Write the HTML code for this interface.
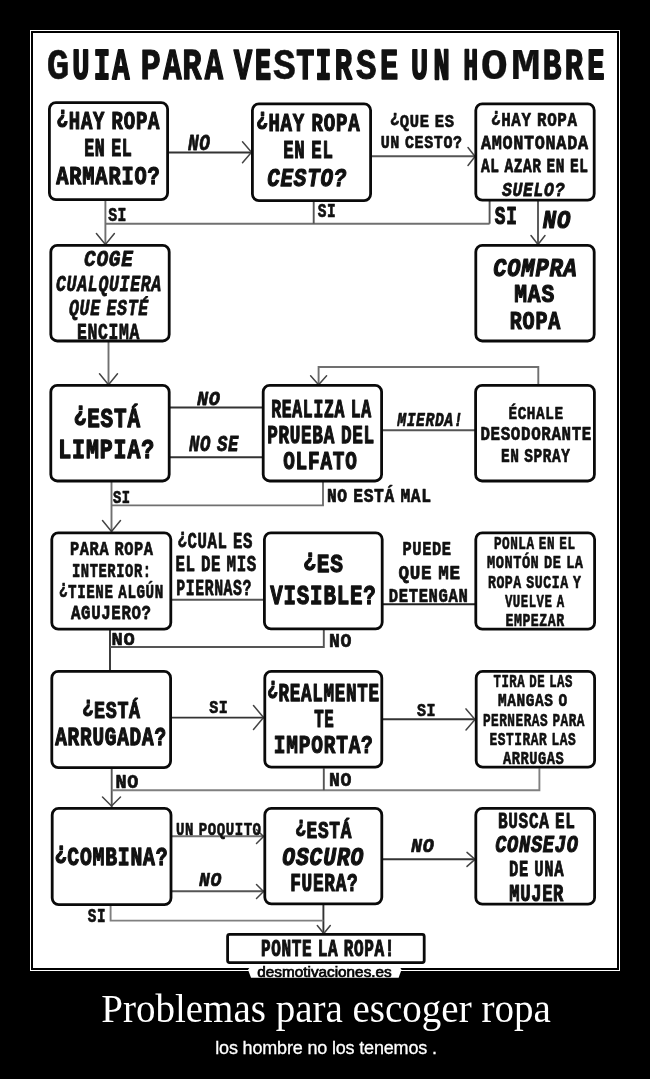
<!DOCTYPE html>
<html lang="es">
<head>
<meta charset="utf-8">
<title>Problemas para escoger ropa</title>
<style>
html,body{margin:0;padding:0;background:#000;overflow:hidden;}
body{width:650px;height:1079px;position:relative;overflow:hidden;font-family:"Liberation Sans",sans-serif;}
#page{position:absolute;left:0;top:0;width:650px;height:1079px;background:#000;filter:grayscale(1);}
#frame{position:absolute;left:30px;top:30px;width:584px;height:935px;padding:2px;border:1px solid #fff;background:#000;}
#chart{display:block;width:584px;height:935px;background:#fff;}
#ink{filter:blur(0.45px);}
#chart text{font-family:"Liberation Mono","DejaVu Sans Mono",monospace;font-weight:bold;fill:#111;stroke:#111;stroke-linejoin:round;stroke-linecap:round;}
#wm{position:absolute;left:245px;top:963px;width:160px;height:16px;}
#cap{position:absolute;left:0;top:987px;width:650px;box-sizing:border-box;padding-left:2px;text-align:center;color:#fff;font-family:"Liberation Serif",serif;font-size:39px;line-height:44px;white-space:nowrap;}
#sub{position:absolute;left:0;top:1038px;width:650px;box-sizing:border-box;padding-left:2px;text-align:center;color:#fff;-webkit-text-stroke:0.3px #fff;font-family:"Liberation Sans",sans-serif;font-size:18px;letter-spacing:-0.17px;line-height:20px;white-space:nowrap;}
</style>
</head>
<body>
<div id="page">
<div id="frame">
<svg id="chart" width="584" height="935" viewBox="33 33 584 935">
<rect x="33" y="33" width="584" height="935" fill="#fff"/>
<g id="ink">

<g fill="none" stroke-width="1.9" stroke-linecap="butt" stroke-linejoin="miter">
<polyline stroke="#333" points="168,152.5 251.5,152.5"/>
<polyline stroke="#555" points="371,156.3 475,156.3"/>
<polyline stroke="#707070" points="105.4,200 105.4,244.5"/>
<polyline stroke="#707070" points="105.4,223.7 489.6,223.7"/>
<polyline stroke="#555" points="313.7,201 313.7,223.7"/>
<polyline stroke="#555" points="489.6,201 489.6,223.7"/>
<polyline stroke="#555" points="538,201 538,244.5"/>
<polyline stroke="#707070" points="108.5,342 108.5,384.7"/>
<polyline stroke="#707070" points="538.3,385 538.3,367 318.6,367 318.6,384.7"/>
<polyline stroke="#333" points="170,407.5 262.5,407.5"/>
<polyline stroke="#333" points="170,457.3 262.5,457.3"/>
<polyline stroke="#555" points="382.5,430.3 475,430.3"/>
<polyline stroke="#707070" points="111.5,482 111.5,531.7"/>
<polyline stroke="#707070" points="111.5,505.4 323,505.4 323,482"/>
<polyline stroke="#555" points="171.5,599.8 263.5,599.8"/>
<polyline stroke="#222" points="383,604.3 475.5,604.3"/>
<polyline stroke="#333" points="110,630 110,670.5"/>
<polyline stroke="#555" points="110,647 323.8,647 323.8,630"/>
<polyline stroke="#333" points="171.5,717.6 264,717.6"/>
<polyline stroke="#333" points="382.5,719.2 475.3,719.2"/>
<polyline stroke="#555" points="111.7,768.5 111.7,807"/>
<polyline stroke="#808080" points="111.7,790.2 539.4,790.2 539.4,768.3"/>
<polyline stroke="#555" points="323.8,768.3 323.8,790.2"/>
<polyline stroke="#707070" points="172,836.3 264,836.3"/>
<polyline stroke="#555" points="172,891.3 264,891.3"/>
<polyline stroke="#333" points="382.5,859.2 475,859.2"/>
<polyline stroke="#333" points="323.4,905 323.4,933.5"/>
<polyline stroke="#808080" points="110.6,905.5 110.6,920.6 323.4,920.6"/>
</g>
<g fill="none" stroke="#444" stroke-width="1.5" stroke-linecap="round" stroke-linejoin="round">
<polyline points="242.5,141.7 251.5,152.2 242.5,162.7"/>
<polyline points="468,147.5 475,156.5 468,165.5"/>
<polyline points="96.4,233.5 105.4,244.5 114.4,233.5"/>
<polyline points="531,235.5 538,244.5 545,235.5"/>
<polyline points="99.5,373.8 108.5,384.8 117.5,373.8"/>
<polyline points="310.6,375.8 318.6,384.8 326.6,375.8"/>
<polyline points="102.5,520.5 111.5,531.5 120.5,520.5"/>
<polyline points="253.5,705.5 263.5,717.5 253.5,729.5"/>
<polyline points="466,708.9 475,719.4 466,729.9"/>
<polyline points="102.5,797 111.5,806 120.5,797"/>
<polyline points="256.5,829.5 263.5,836.5 256.5,843.5"/>
<polyline points="256.5,884.5 263.5,891.5 256.5,898.5"/>
<polyline points="467,852.4 475,859.4 467,866.4"/>
<polyline points="317.3,925.5 323.8,933.5 330.3,925.5"/>
</g>
<g fill="#fff" stroke="#0a0a0a" stroke-width="2.8">
<rect x="49.4" y="102.6" width="118.2" height="97" rx="6.5" ry="6.5"/>
<rect x="252.4" y="103.8" width="118.2" height="96.8" rx="6.5" ry="6.5"/>
<rect x="475.8" y="103.8" width="118.4" height="96.4" rx="6.5" ry="6.5"/>
<rect x="50.8" y="245.4" width="118.4" height="95.6" rx="6.5" ry="6.5"/>
<rect x="475.8" y="245.4" width="118.4" height="95.6" rx="6.5" ry="6.5"/>
<rect x="50.8" y="385.4" width="118.4" height="95.6" rx="6.5" ry="6.5"/>
<rect x="263.2" y="385.3" width="118.4" height="95.7" rx="6.5" ry="6.5"/>
<rect x="475.6" y="385.4" width="118.8" height="95.6" rx="6.5" ry="6.5"/>
<rect x="51.8" y="532.8" width="119" height="96.4" rx="6.5" ry="6.5"/>
<rect x="264.4" y="532.8" width="117.8" height="96" rx="6.5" ry="6.5"/>
<rect x="475.8" y="532.8" width="118.8" height="96.4" rx="6.5" ry="6.5"/>
<rect x="51.8" y="671.4" width="118.8" height="96.2" rx="6.5" ry="6.5"/>
<rect x="264.8" y="671.4" width="117" height="95.8" rx="6.5" ry="6.5"/>
<rect x="476.2" y="671.4" width="118.4" height="95.8" rx="6.5" ry="6.5"/>
<rect x="52.2" y="808.4" width="118.8" height="96.2" rx="6.5" ry="6.5"/>
<rect x="264.8" y="808.4" width="117" height="95.4" rx="6.5" ry="6.5"/>
<rect x="475.8" y="808.4" width="118.8" height="95.8" rx="6.5" ry="6.5"/>
<rect x="227.6" y="934.4" width="196.6" height="28.2" rx="2" ry="2" stroke-width="2.8"/>
</g>
<g>
<text xml:space="preserve" y="79.04" font-size="43.91" stroke-width="1.32"><tspan x="46.81" textLength="22.57" lengthAdjust="spacingAndGlyphs" stroke-width="0.55">G</tspan><tspan x="72.13" textLength="17.24" lengthAdjust="spacingAndGlyphs" stroke-width="1.95">U</tspan><tspan x="93.71" textLength="16.38" lengthAdjust="spacingAndGlyphs" stroke-width="2.16">I</tspan><tspan x="112.13" textLength="17.24" lengthAdjust="spacingAndGlyphs" stroke-width="1.95">A</tspan><tspan x="131.20" textLength="6" lengthAdjust="spacingAndGlyphs"> </tspan><tspan x="140.61" textLength="20.38" lengthAdjust="spacingAndGlyphs" stroke-width="1.06">P</tspan><tspan x="163.18" textLength="18.33" lengthAdjust="spacingAndGlyphs" stroke-width="1.61">A</tspan><tspan x="182.24" textLength="19.42" lengthAdjust="spacingAndGlyphs" stroke-width="1.30">R</tspan><tspan x="204.68" textLength="18.33" lengthAdjust="spacingAndGlyphs" stroke-width="1.61">A</tspan><tspan x="224.70" textLength="6" lengthAdjust="spacingAndGlyphs"> </tspan><tspan x="233.87" textLength="18.47" lengthAdjust="spacingAndGlyphs" stroke-width="1.57">V</tspan><tspan x="255.00" textLength="16.00" lengthAdjust="spacingAndGlyphs" stroke-width="2.37">E</tspan><tspan x="273.08" textLength="22.85" lengthAdjust="spacingAndGlyphs" stroke-width="0.50">S</tspan><tspan x="296.22" textLength="18.06" lengthAdjust="spacingAndGlyphs" stroke-width="1.69">T</tspan><tspan x="315.75" textLength="15.40" lengthAdjust="spacingAndGlyphs" stroke-width="2.40">I</tspan><tspan x="334.81" textLength="17.37" lengthAdjust="spacingAndGlyphs" stroke-width="1.90">R</tspan><tspan x="355.89" textLength="20.52" lengthAdjust="spacingAndGlyphs" stroke-width="1.02">S</tspan><tspan x="380.10" textLength="18.19" lengthAdjust="spacingAndGlyphs" stroke-width="1.65">E</tspan><tspan x="400.00" textLength="6" lengthAdjust="spacingAndGlyphs"> </tspan><tspan x="411.05" textLength="17.10" lengthAdjust="spacingAndGlyphs" stroke-width="1.99">U</tspan><tspan x="433.48" textLength="16.14" lengthAdjust="spacingAndGlyphs" stroke-width="2.32">N</tspan><tspan x="451.60" textLength="6" lengthAdjust="spacingAndGlyphs"> </tspan><tspan x="463.51" textLength="14.48" lengthAdjust="spacingAndGlyphs" stroke-width="2.40">H</tspan><tspan x="480.75" textLength="26.99" lengthAdjust="spacingAndGlyphs" stroke-width="0.20">O</tspan><tspan x="510.66" textLength="30.07" lengthAdjust="spacingAndGlyphs" stroke-width="0.20">M</tspan><tspan x="542.63" textLength="18.74" lengthAdjust="spacingAndGlyphs" stroke-width="1.49">B</tspan><tspan x="564.68" textLength="18.33" lengthAdjust="spacingAndGlyphs" stroke-width="1.61">R</tspan><tspan x="587.13" textLength="17.24" lengthAdjust="spacingAndGlyphs" stroke-width="1.95">E</tspan></text>
<text x="56.5966" y="128.703" font-size="24.86" stroke-width="1.19" letter-spacing="0.99" word-spacing="-7.46" textLength="103.57" lengthAdjust="spacingAndGlyphs"><tspan dy="-4.97">¿</tspan><tspan dy="4.97">HAY ROPA</tspan></text>
<text x="84.1966" y="155.703" font-size="24.86" stroke-width="1.19" letter-spacing="0.99" word-spacing="-7.46" textLength="48.27" lengthAdjust="spacingAndGlyphs">EN EL</text>
<text x="56.2237" y="183.676" font-size="25.99" stroke-width="1.25" letter-spacing="1.04" word-spacing="-7.80" textLength="104.37" lengthAdjust="spacingAndGlyphs">ARMARIO?</text>
<text x="256.207" y="130.693" font-size="25.28" stroke-width="1.21" letter-spacing="1.01" word-spacing="-7.58" textLength="104.15" lengthAdjust="spacingAndGlyphs"><tspan dy="-5.06">¿</tspan><tspan dy="5.06">HAY ROPA</tspan></text>
<text x="283.197" y="157.703" font-size="24.86" stroke-width="1.19" letter-spacing="0.99" word-spacing="-7.46" textLength="50.30" lengthAdjust="spacingAndGlyphs">EN EL</text>
<text x="267.224" y="185.676" font-size="25.99" stroke-width="1.25" letter-spacing="1.04" word-spacing="-7.80" textLength="79.88" lengthAdjust="spacingAndGlyphs" font-style="italic">CESTO?</text>
<text x="490.966" y="126.434" font-size="20.34" stroke-width="0.73" letter-spacing="0.81" word-spacing="-6.10" textLength="86.70" lengthAdjust="spacingAndGlyphs"><tspan dy="-4.07">¿</tspan><tspan dy="4.07">HAY ROPA</tspan></text>
<text x="480.979" y="149.421" font-size="21.05" stroke-width="0.76" letter-spacing="0.84" word-spacing="-6.31" textLength="107.72" lengthAdjust="spacingAndGlyphs">AMONTONADA</text>
<text x="480.979" y="172.421" font-size="21.05" stroke-width="0.76" letter-spacing="0.84" word-spacing="-6.31" textLength="107.62" lengthAdjust="spacingAndGlyphs">AL AZAR EN EL</text>
<text x="501.979" y="195.921" font-size="21.05" stroke-width="0.76" letter-spacing="0.84" word-spacing="-6.31" textLength="63.20" lengthAdjust="spacingAndGlyphs" font-style="italic">SUELO?</text>
<text x="187.984" y="149.916" font-size="21.33" stroke-width="0.77" letter-spacing="0.85" word-spacing="-6.40" textLength="22.74" lengthAdjust="spacingAndGlyphs" font-style="italic">NO</text>
<text x="389.928" y="126.972" font-size="18.22" stroke-width="0.66" letter-spacing="0.73" word-spacing="-5.47" textLength="64.76" lengthAdjust="spacingAndGlyphs"><tspan dy="-3.64">¿</tspan><tspan dy="3.64">QUE ES</tspan></text>
<text x="380.628" y="147.972" font-size="18.22" stroke-width="0.66" letter-spacing="0.73" word-spacing="-5.47" textLength="82.05" lengthAdjust="spacingAndGlyphs">UN CESTO?</text>
<text x="108.161" y="220.839" font-size="20.06" stroke-width="0.72" letter-spacing="0.80" word-spacing="-6.02" textLength="18.87" lengthAdjust="spacingAndGlyphs">SI</text>
<text x="317.653" y="216.947" font-size="19.63" stroke-width="0.71" letter-spacing="0.79" word-spacing="-5.89" textLength="18.47" lengthAdjust="spacingAndGlyphs">SI</text>
<text x="494.807" y="224.193" font-size="25.28" stroke-width="1.21" letter-spacing="1.01" word-spacing="-7.58" textLength="22.70" lengthAdjust="spacingAndGlyphs">SI</text>
<text x="542.697" y="227.703" font-size="24.86" stroke-width="1.19" letter-spacing="0.99" word-spacing="-7.46" textLength="28.50" lengthAdjust="spacingAndGlyphs" font-style="italic">NO</text>
<text x="83.9966" y="265.903" font-size="22.03" stroke-width="0.79" letter-spacing="0.88" word-spacing="-6.61" textLength="49.78" lengthAdjust="spacingAndGlyphs" font-style="italic">COGE</text>
<text x="56.0119" y="290.888" font-size="22.88" stroke-width="0.82" letter-spacing="0.92" word-spacing="-6.86" textLength="105.94" lengthAdjust="spacingAndGlyphs" font-style="italic">CUALQUIERA</text>
<text x="68.9915" y="314.908" font-size="21.75" stroke-width="0.78" letter-spacing="0.87" word-spacing="-6.53" textLength="79.98" lengthAdjust="spacingAndGlyphs" font-style="italic">QUE ESTÉ</text>
<text x="77.0042" y="338.896" font-size="22.46" stroke-width="0.81" letter-spacing="0.90" word-spacing="-6.74" textLength="63.15" lengthAdjust="spacingAndGlyphs">ENCIMA</text>
<text x="493.224" y="275.676" font-size="25.99" stroke-width="1.25" letter-spacing="1.04" word-spacing="-7.80" textLength="84.43" lengthAdjust="spacingAndGlyphs" font-style="italic">COMPRA</text>
<text x="514.214" y="302.186" font-size="25.56" stroke-width="1.23" letter-spacing="1.02" word-spacing="-7.67" textLength="40.93" lengthAdjust="spacingAndGlyphs">MAS</text>
<text x="509.707" y="328.693" font-size="25.28" stroke-width="1.21" letter-spacing="1.01" word-spacing="-7.58" textLength="51.39" lengthAdjust="spacingAndGlyphs">ROPA</text>
<text x="73.7678" y="426.932" font-size="27.82" stroke-width="1.34" letter-spacing="1.11" word-spacing="-8.35" textLength="67.10" lengthAdjust="spacingAndGlyphs"><tspan dy="-5.56">¿</tspan><tspan dy="5.56">ESTÁ</tspan></text>
<text x="58.2847" y="457.915" font-size="28.53" stroke-width="1.37" letter-spacing="1.14" word-spacing="-8.56" textLength="96.79" lengthAdjust="spacingAndGlyphs">LIMPIA?</text>
<text x="271.224" y="416.676" font-size="25.99" stroke-width="1.25" letter-spacing="1.04" word-spacing="-7.80" textLength="100.51" lengthAdjust="spacingAndGlyphs">REALIZA LA</text>
<text x="267.224" y="442.676" font-size="25.99" stroke-width="1.25" letter-spacing="1.04" word-spacing="-7.80" textLength="107.56" lengthAdjust="spacingAndGlyphs">PRUEBA DEL</text>
<text x="283.224" y="468.676" font-size="25.99" stroke-width="1.25" letter-spacing="1.04" word-spacing="-7.80" textLength="74.33" lengthAdjust="spacingAndGlyphs">OLFATO</text>
<text x="508.443" y="418.557" font-size="19.07" stroke-width="0.69" letter-spacing="0.76" word-spacing="-5.72" textLength="55.19" lengthAdjust="spacingAndGlyphs">ÉCHALE</text>
<text x="480.453" y="439.947" font-size="19.63" stroke-width="0.71" letter-spacing="0.79" word-spacing="-5.89" textLength="111.53" lengthAdjust="spacingAndGlyphs">DESODORANTE</text>
<text x="500.958" y="461.642" font-size="19.92" stroke-width="0.72" letter-spacing="0.80" word-spacing="-5.97" textLength="69.66" lengthAdjust="spacingAndGlyphs">EN SPRAY</text>
<text x="196.979" y="404.921" font-size="21.05" stroke-width="0.76" letter-spacing="0.84" word-spacing="-6.31" textLength="23.79" lengthAdjust="spacingAndGlyphs" font-style="italic">NO</text>
<text x="189.009" y="450.891" font-size="22.74" stroke-width="0.82" letter-spacing="0.91" word-spacing="-6.82" textLength="50.17" lengthAdjust="spacingAndGlyphs" font-style="italic">NO SE</text>
<text x="397.251" y="426.249" font-size="19.49" stroke-width="0.70" letter-spacing="0.78" word-spacing="-5.85" textLength="65.89" lengthAdjust="spacingAndGlyphs" font-style="italic">MIERDA!</text>
<text x="112.938" y="502.962" font-size="18.79" stroke-width="0.68" letter-spacing="0.75" word-spacing="-5.64" textLength="17.68" lengthAdjust="spacingAndGlyphs">SI</text>
<text x="326.961" y="502.239" font-size="20.06" stroke-width="0.72" letter-spacing="0.80" word-spacing="-6.02" textLength="104.73" lengthAdjust="spacingAndGlyphs">NO ESTÁ MAL</text>
<text x="69.9534" y="555.247" font-size="19.63" stroke-width="0.71" letter-spacing="0.79" word-spacing="-5.89" textLength="83.71" lengthAdjust="spacingAndGlyphs">PARA ROPA</text>
<text x="71.9661" y="576.934" font-size="20.34" stroke-width="0.73" letter-spacing="0.81" word-spacing="-6.10" textLength="79.62" lengthAdjust="spacingAndGlyphs">INTERIOR:</text>
<text x="58.9534" y="598.247" font-size="19.63" stroke-width="0.71" letter-spacing="0.79" word-spacing="-5.89" textLength="104.86" lengthAdjust="spacingAndGlyphs"><tspan dy="-3.93">¿</tspan><tspan dy="3.93">TIENE ALGÚN</tspan></text>
<text x="70.9788" y="618.921" font-size="21.05" stroke-width="0.76" letter-spacing="0.84" word-spacing="-6.31" textLength="80.67" lengthAdjust="spacingAndGlyphs">AGUJERO?</text>
<text x="177.484" y="548.416" font-size="21.33" stroke-width="0.77" letter-spacing="0.85" word-spacing="-6.40" textLength="75.46" lengthAdjust="spacingAndGlyphs"><tspan dy="-4.27">¿</tspan><tspan dy="4.27">CUAL ES</tspan></text>
<text x="175.384" y="571.416" font-size="21.33" stroke-width="0.77" letter-spacing="0.85" word-spacing="-6.40" textLength="81.56" lengthAdjust="spacingAndGlyphs">EL DE MIS</text>
<text x="176.289" y="595.111" font-size="21.61" stroke-width="0.78" letter-spacing="0.86" word-spacing="-6.48" textLength="75.71" lengthAdjust="spacingAndGlyphs">PIERNAS?</text>
<text x="303.234" y="571.966" font-size="26.41" stroke-width="1.27" letter-spacing="1.06" word-spacing="-7.92" textLength="40.68" lengthAdjust="spacingAndGlyphs"><tspan dy="-5.28">¿</tspan><tspan dy="5.28">ES</tspan></text>
<text x="270.281" y="604.119" font-size="28.39" stroke-width="1.36" letter-spacing="1.14" word-spacing="-8.52" textLength="106.27" lengthAdjust="spacingAndGlyphs">VISIBLE?</text>
<text x="402.461" y="554.739" font-size="20.06" stroke-width="0.72" letter-spacing="0.80" word-spacing="-6.02" textLength="49.19" lengthAdjust="spacingAndGlyphs">PUEDE</text>
<text x="398.474" y="578.726" font-size="20.76" stroke-width="0.75" letter-spacing="0.83" word-spacing="-6.23" textLength="62.26" lengthAdjust="spacingAndGlyphs">QUE ME</text>
<text x="388.761" y="601.739" font-size="20.06" stroke-width="0.72" letter-spacing="0.80" word-spacing="-6.02" textLength="79.70" lengthAdjust="spacingAndGlyphs">DETENGAN</text>
<text x="493.928" y="549.272" font-size="18.22" stroke-width="0.66" letter-spacing="0.73" word-spacing="-5.47" textLength="81.65" lengthAdjust="spacingAndGlyphs">PONLA EN EL</text>
<text x="486.923" y="568.477" font-size="17.94" stroke-width="0.65" letter-spacing="0.72" word-spacing="-5.38" textLength="96.70" lengthAdjust="spacingAndGlyphs">MONTÓN DE LA</text>
<text x="487.941" y="587.959" font-size="18.93" stroke-width="0.68" letter-spacing="0.76" word-spacing="-5.68" textLength="93.65" lengthAdjust="spacingAndGlyphs">ROPA SUCIA Y</text>
<text x="504.928" y="606.972" font-size="18.22" stroke-width="0.66" letter-spacing="0.73" word-spacing="-5.47" textLength="59.64" lengthAdjust="spacingAndGlyphs">VUELVE A</text>
<text x="505.528" y="625.972" font-size="18.22" stroke-width="0.66" letter-spacing="0.73" word-spacing="-5.47" textLength="59.07" lengthAdjust="spacingAndGlyphs">EMPEZAR</text>
<text x="111.438" y="645.362" font-size="18.79" stroke-width="0.68" letter-spacing="0.75" word-spacing="-5.64" textLength="23.97" lengthAdjust="spacingAndGlyphs">NO</text>
<text x="328.953" y="646.947" font-size="19.63" stroke-width="0.71" letter-spacing="0.79" word-spacing="-5.89" textLength="23.32" lengthAdjust="spacingAndGlyphs">NO</text>
<text x="82.1898" y="717.71" font-size="24.58" stroke-width="1.18" letter-spacing="0.98" word-spacing="-7.37" textLength="58.65" lengthAdjust="spacingAndGlyphs"><tspan dy="-4.92">¿</tspan><tspan dy="4.92">ESTÁ</tspan></text>
<text x="55.2339" y="744.966" font-size="26.41" stroke-width="1.27" letter-spacing="1.06" word-spacing="-7.92" textLength="111.61" lengthAdjust="spacingAndGlyphs">ARRUGADA?</text>
<text x="267.224" y="700.676" font-size="25.99" stroke-width="1.25" letter-spacing="1.04" word-spacing="-7.80" textLength="112.56" lengthAdjust="spacingAndGlyphs"><tspan dy="-5.20">¿</tspan><tspan dy="5.20">REALMENTE</tspan></text>
<text x="314.22" y="726.68" font-size="25.85" stroke-width="1.24" letter-spacing="1.03" word-spacing="-7.75" textLength="20.19" lengthAdjust="spacingAndGlyphs">TE</text>
<text x="273.807" y="752.693" font-size="25.28" stroke-width="1.21" letter-spacing="1.01" word-spacing="-7.58" textLength="99.77" lengthAdjust="spacingAndGlyphs">IMPORTA?</text>
<text x="493.533" y="687.167" font-size="18.50" stroke-width="0.67" letter-spacing="0.74" word-spacing="-5.55" textLength="79.33" lengthAdjust="spacingAndGlyphs">TIRA DE LAS</text>
<text x="497.928" y="706.272" font-size="18.22" stroke-width="0.66" letter-spacing="0.73" word-spacing="-5.47" textLength="69.72" lengthAdjust="spacingAndGlyphs">MANGAS O</text>
<text x="482.933" y="726.167" font-size="18.50" stroke-width="0.67" letter-spacing="0.74" word-spacing="-5.55" textLength="102.04" lengthAdjust="spacingAndGlyphs">PERNERAS PARA</text>
<text x="489.533" y="745.467" font-size="18.50" stroke-width="0.67" letter-spacing="0.74" word-spacing="-5.55" textLength="86.65" lengthAdjust="spacingAndGlyphs">ESTIRAR LAS</text>
<text x="502.933" y="764.367" font-size="18.50" stroke-width="0.67" letter-spacing="0.74" word-spacing="-5.55" textLength="61.48" lengthAdjust="spacingAndGlyphs">ARRUGAS</text>
<text x="209.228" y="713.472" font-size="18.22" stroke-width="0.66" letter-spacing="0.73" word-spacing="-5.47" textLength="19.25" lengthAdjust="spacingAndGlyphs">SI</text>
<text x="416.928" y="716.272" font-size="18.22" stroke-width="0.66" letter-spacing="0.73" word-spacing="-5.47" textLength="19.25" lengthAdjust="spacingAndGlyphs">SI</text>
<text x="115.461" y="787.739" font-size="20.06" stroke-width="0.72" letter-spacing="0.80" word-spacing="-6.02" textLength="23.62" lengthAdjust="spacingAndGlyphs">NO</text>
<text x="328.953" y="786.247" font-size="19.63" stroke-width="0.71" letter-spacing="0.79" word-spacing="-5.89" textLength="23.32" lengthAdjust="spacingAndGlyphs">NO</text>
<text x="54.6305" y="864.869" font-size="26.27" stroke-width="1.26" letter-spacing="1.05" word-spacing="-7.88" textLength="113.73" lengthAdjust="spacingAndGlyphs"><tspan dy="-5.25">¿</tspan><tspan dy="5.25">COMBINA?</tspan></text>
<text x="295.166" y="838.034" font-size="23.59" stroke-width="1.13" letter-spacing="0.94" word-spacing="-7.08" textLength="56.98" lengthAdjust="spacingAndGlyphs"><tspan dy="-4.72">¿</tspan><tspan dy="4.72">ESTÁ</tspan></text>
<text x="282.224" y="864.676" font-size="25.99" stroke-width="1.25" letter-spacing="1.04" word-spacing="-7.80" textLength="82.01" lengthAdjust="spacingAndGlyphs" font-style="italic">OSCURO</text>
<text x="290.217" y="890.983" font-size="25.71" stroke-width="1.23" letter-spacing="1.03" word-spacing="-7.71" textLength="68.28" lengthAdjust="spacingAndGlyphs">FUERA?</text>
<text x="498.009" y="828.091" font-size="22.74" stroke-width="0.82" letter-spacing="0.91" word-spacing="-6.82" textLength="77.63" lengthAdjust="spacingAndGlyphs">BUSCA EL</text>
<text x="495.166" y="852.034" font-size="23.59" stroke-width="1.13" letter-spacing="0.94" word-spacing="-7.08" textLength="83.41" lengthAdjust="spacingAndGlyphs" font-style="italic">CONSEJO</text>
<text x="509.012" y="876.188" font-size="22.88" stroke-width="0.82" letter-spacing="0.92" word-spacing="-6.86" textLength="55.20" lengthAdjust="spacingAndGlyphs">DE UNA</text>
<text x="509.156" y="900.744" font-size="23.16" stroke-width="1.11" letter-spacing="0.93" word-spacing="-6.95" textLength="54.98" lengthAdjust="spacingAndGlyphs">MUJER</text>
<text x="175.941" y="834.959" font-size="18.93" stroke-width="0.68" letter-spacing="0.76" word-spacing="-5.68" textLength="85.68" lengthAdjust="spacingAndGlyphs">UN POQUITO</text>
<text x="198.964" y="886.336" font-size="20.20" stroke-width="0.73" letter-spacing="0.81" word-spacing="-6.06" textLength="23.09" lengthAdjust="spacingAndGlyphs" font-style="italic">NO</text>
<text x="410.951" y="851.649" font-size="19.49" stroke-width="0.70" letter-spacing="0.78" word-spacing="-5.85" textLength="23.53" lengthAdjust="spacingAndGlyphs" font-style="italic">NO</text>
<text x="87.7534" y="921.947" font-size="19.63" stroke-width="0.71" letter-spacing="0.79" word-spacing="-5.89" textLength="18.26" lengthAdjust="spacingAndGlyphs">SI</text>
<text x="260.956" y="955.744" font-size="23.16" stroke-width="1.11" letter-spacing="0.93" word-spacing="-6.95" textLength="134.13" lengthAdjust="spacingAndGlyphs">PONTE LA ROPA!</text>
</g>
</g>
</svg>
</div>
<svg id="wm" width="160" height="16" viewBox="245 963 160 16">
<path d="M252.3,964.2 L398,964.2 L401.5,969.8 L398.6,977.8 L251,977.8 L248,969.8 Z" fill="#fff"/>
<text x="257.3" y="976.5" font-family="'Liberation Sans',sans-serif" font-size="14.8" textLength="134.4" lengthAdjust="spacingAndGlyphs" fill="#000" stroke="#000" stroke-width="0.7">desmotivaciones.es</text>
</svg>
<div id="cap">Problemas para escoger ropa</div>
<div id="sub">los hombre no los tenemos .</div>
</div>
</body>
</html>
